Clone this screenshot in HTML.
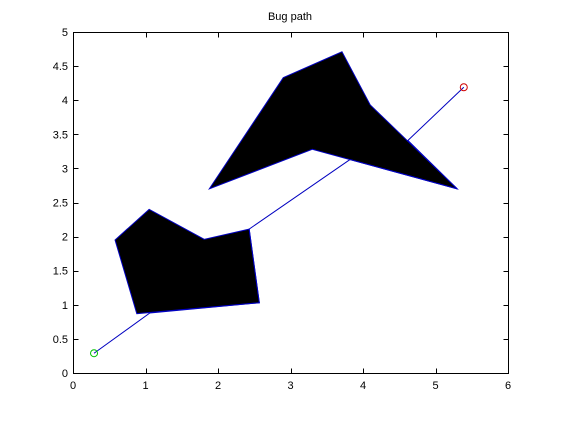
<!DOCTYPE html>
<html><head><meta charset="utf-8"><style>
body{margin:0;background:#fff;width:561px;height:420px;overflow:hidden}
text{font-family:"Liberation Sans",sans-serif;font-size:11px;fill:#000}
</style></head><body>
<svg id="chart" width="561" height="420">
<text x="290" y="20" text-anchor="middle">Bug path</text>
<g id="plot"></g>
</svg>
<script>
const xTicks=[0,1,2,3,4,5,6];
const yTicks=[0,0.5,1,1.5,2,2.5,3,3.5,4,4.5,5];
const yTickLabels=["0","0.5","1","1.5","2","2.5","3","3.5","4","4.5","5"];
const obstacle1X=[0.58,1.05,1.81,2.43,2.57,0.88];
const obstacle1Y=[1.95,2.40,1.96,2.11,1.03,0.87];
const obstacle2X=[1.88,2.90,3.71,4.10,5.30,3.30];
const obstacle2Y=[2.70,4.33,4.71,3.93,2.70,3.28];
const pathX=[0.29,1.06,2.57,2.43,3.82,5.30,4.62,5.39];
const pathY=[0.29,0.88,1.03,2.11,3.13,2.70,3.41,4.19];
const startPt=[0.29,0.29];
const goalPt=[5.39,4.19];

const L=73,R=508,T=32,B=373;
const sx=v=>L+(R-L)*v/6;
const sy=v=>B-(B-T)*v/5;
const NS="http://www.w3.org/2000/svg";
const g=document.getElementById('plot');
function mk(tag,attrs){const e=document.createElementNS(NS,tag);for(const k in attrs)e.setAttribute(k,attrs[k]);g.appendChild(e);return e;}

function poly(xs,ys,name){
  const pts=xs.map((x,i)=>sx(x)+','+sy(ys[i])).join(' ');
  const p=mk('polygon',{points:pts,fill:'#000',stroke:'#fff','stroke-width':3});
  
  
  const q=mk('polygon',{points:pts,fill:'#000',stroke:'#0000c0','stroke-width':1});
  
  
}
poly(obstacle1X,obstacle1Y,'obstacle-1');
poly(obstacle2X,obstacle2Y,'obstacle-2');

const path=mk('polyline',{points:pathX.map((x,i)=>sx(x)+','+sy(pathY[i])).join(' '),fill:'none',stroke:'#0000c0','stroke-width':1});



const s=mk('circle',{cx:sx(startPt[0]),cy:sy(startPt[1]),r:3.5,fill:'none',stroke:'#00c000','stroke-width':1});


const gm=mk('circle',{cx:sx(goalPt[0]),cy:sy(goalPt[1]),r:3.5,fill:'none',stroke:'#d00000','stroke-width':1});



const box=mk('rect',{x:L+0.5,y:T+0.5,width:R-L,height:B-T,fill:'none',stroke:'#000','stroke-width':1});



xTicks.forEach(v=>{
  const x=Math.round(sx(v))+0.5;
  const t1=mk('line',{x1:x,x2:x,y1:B+0.5,y2:B-4.5,stroke:'#000'});
  
  
  const t2=mk('line',{x1:x,x2:x,y1:T+0.5,y2:T+5.5,stroke:'#000'});
  
  
  const tx=mk('text',{x:sx(v),y:B+16,'text-anchor':'middle'});
  tx.textContent=String(v);
  
  
});
yTicks.forEach((v,i)=>{
  const y=Math.round(sy(v))+0.5;
  const t1=mk('line',{x1:L+0.5,x2:L+5.5,y1:y,y2:y,stroke:'#000'});
  
  
  const t2=mk('line',{x1:R+0.5,x2:R-4.5,y1:y,y2:y,stroke:'#000'});
  
  
  const ty=mk('text',{x:L-5,y:sy(v)+4,'text-anchor':'end'});
  ty.textContent=yTickLabels[i];
  
  
});
</script>
</body></html>
